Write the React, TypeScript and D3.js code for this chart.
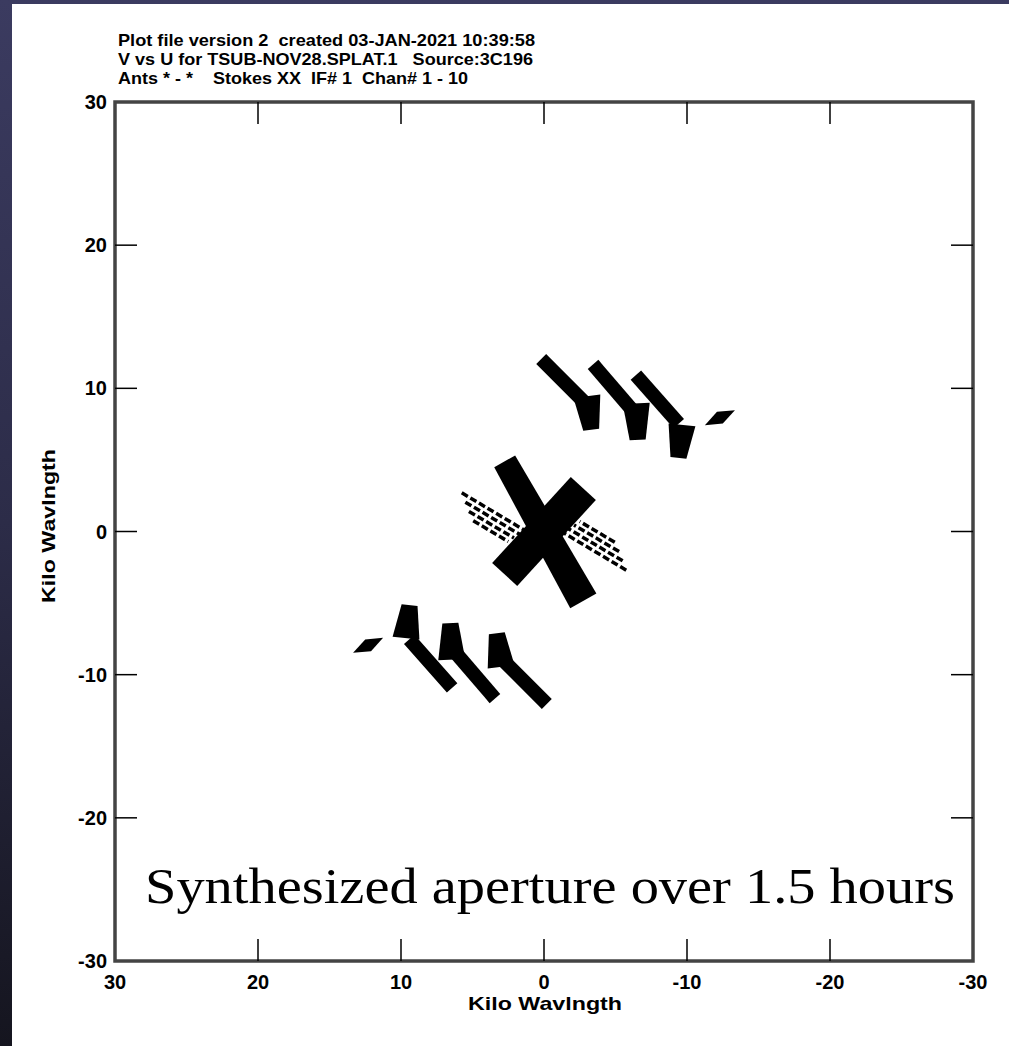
import React from 'react';
import * as d3 from 'd3';

// ---------- data ----------
const uTicks = [30, 20, 10, 0, -10, -20, -30];
const vTicks = [30, 20, 10, 0, -10, -20, -30];
const titleLines = [
  'Plot file version 2  created 03-JAN-2021 10:39:58',
  'V vs U for TSUB-NOV28.SPLAT.1   Source:3C196',
  'Ants * - *    Stokes XX  IF# 1  Chan# 1 - 10',
];
const axisTitle = 'Kilo Wavlngth';
const caption = 'Synthesized aperture over 1.5 hours';

type P = [number, number];

// thin staircase arms of the uv tracks (u, v in kilo-wavelengths)
const armTracks: P[][] = [
  [[-0.15, 11.7], [-2.6, 9.25]],
  [[-3.75, 11.3], [-5.9, 8.8]],
  [[-6.75, 10.55], [-9.1, 7.9]],
  [[0.15, -11.7], [2.6, -9.25]],
  [[3.75, -11.3], [5.9, -8.8]],
  [[6.75, -10.55], [9.1, -7.9]],
];
// wide stems (channel spread) of the tracks
const stemTracks: P[][] = [
  [[-3.0, 9.45], [-3.3, 7.1]],
  [[-6.45, 8.95], [-6.55, 6.4]],
  [[-9.65, 7.45], [-9.4, 5.15]],
  [[3.0, -9.45], [3.3, -7.1]],
  [[6.45, -8.95], [6.55, -6.4]],
  [[9.65, -7.45], [9.4, -5.15]],
];
// short isolated segments
const diamondTracks: P[][] = [
  [[-11.5, 7.55], [-13.1, 8.35]],
  [[11.5, -7.55], [13.1, -8.35]],
];
// short-baseline bands through the origin
const bandTracks: P[][] = [
  [[2.75, 4.9], [-2.75, -4.85]],
  [[-2.75, 3.0], [2.75, -3.0]],
];
// dashed parallel streaks
const dashTracks: P[][] = [
  [[5.75, 2.7], [1.3, 0.05]],
  [[5.5, 2.05], [1.7, -0.2]],
  [[5.25, 1.4], [2.1, -0.45]],
  [[4.95, 0.75], [2.5, -0.7]],
  [[-5.75, -2.7], [-1.3, -0.05]],
  [[-5.5, -2.05], [-1.7, 0.2]],
  [[-5.25, -1.4], [-2.1, 0.45]],
  [[-4.95, -0.75], [-2.5, 0.7]],
];

// ---------- layout ----------
const W = 1009;
const H = 1046;
const X0 = 115, X1 = 973, Y0 = 102, Y1 = 961;
const TICK = 22;
const sans = 'Liberation Sans, Arial, Helvetica, sans-serif';
const serif = 'Liberation Serif, Times New Roman, serif';

function tapered(p0: P, p1: P, w0: number, w1: number): string {
  const dx = p1[0] - p0[0];
  const dy = p1[1] - p0[1];
  const L = Math.hypot(dx, dy) || 1;
  const nx = -dy / L, ny = dx / L;
  const pts: P[] = [
    [p0[0] + nx * w0 / 2, p0[1] + ny * w0 / 2],
    [p1[0] + nx * w1 / 2, p1[1] + ny * w1 / 2],
    [p1[0] - nx * w1 / 2, p1[1] - ny * w1 / 2],
    [p0[0] - nx * w0 / 2, p0[1] - ny * w0 / 2],
  ];
  return pts.map((p) => p.join(',')).join(' ');
}

function rhombus(p0: P, p1: P, w: number): string {
  const dx = p1[0] - p0[0];
  const dy = p1[1] - p0[1];
  const L = Math.hypot(dx, dy) || 1;
  const nx = -dy / L, ny = dx / L;
  const m: P = [(p0[0] + p1[0]) / 2, (p0[1] + p1[1]) / 2];
  const pts: P[] = [
    [p0[0] - dx / L * 4, p0[1] - dy / L * 4],
    [m[0] + nx * w / 2, m[1] + ny * w / 2],
    [p1[0] + dx / L * 4, p1[1] + dy / L * 4],
    [m[0] - nx * w / 2, m[1] - ny * w / 2],
  ];
  return pts.map((p) => p.join(',')).join(' ');
}

export default function App() {
  const x = d3.scaleLinear().domain([30, -30]).range([X0, X1]);
  const y = d3.scaleLinear().domain([30, -30]).range([Y0, Y1]);
  const line = d3.line<P>().x((d) => x(d[0])).y((d) => y(d[1]));
  const px = (d: P): P => [x(d[0]), y(d[1])];

  const inner = uTicks.filter((t) => t !== 30 && t !== -30);
  const innerV = vTicks.filter((t) => t !== 30 && t !== -30);

  return (
    <div style={{ position: 'absolute', left: 0, top: 0 }}>
      <svg width={W} height={H} viewBox={`0 0 ${W} ${H}`} style={{ display: 'block' }}>
        <defs>
          <linearGradient id="bg" x1="0" y1="0" x2="0" y2="1">
            <stop offset="0" stopColor="#3b3b60" />
            <stop offset="0.5" stopColor="#2c2c48" />
            <stop offset="1" stopColor="#15151f" />
          </linearGradient>
        </defs>
        <rect x={0} y={0} width={W} height={H} fill="url(#bg)" />
        <rect x={12} y={4} width={W - 12} height={H - 4} fill="#ffffff" />

        {/* title */}
        {titleLines.map((t, i) => (
          <text
            key={i}
            x={118}
            y={46 + i * 19}
            fontFamily={sans}
            fontWeight="bold"
            fontSize={16.5}
            fill="#000"
            style={{ whiteSpace: 'pre' }}
            textLength={[417, 415, 350][i]}
            lengthAdjust="spacingAndGlyphs"
          >
            {t}
          </text>
        ))}

        {/* uv data */}
        <g fill="#000">
          {bandTracks.map((t, i) => (
            <polygon key={'b' + i} points={tapered(px(t[0]), px(t[1]), i === 0 ? 24 : 34, i === 0 ? 30 : 34)} />
          ))}
          {stemTracks.map((t, i) => (
            <polygon key={'s' + i} points={tapered(px(t[0]), px(t[1]), 27, 16)} />
          ))}
          {diamondTracks.map((t, i) => (
            <polygon key={'d' + i} points={rhombus(px(t[0]), px(t[1]), 13)} />
          ))}
        </g>
        <g fill="none" stroke="#000">
          {armTracks.map((t, i) => (
            <path key={'a' + i} d={line(t) || ''} strokeWidth={14} strokeLinecap="square" />
          ))}
          {dashTracks.map((t, i) => (
            <path key={'k' + i} d={line(t) || ''} strokeWidth={3.5} strokeDasharray="7 3" />
          ))}
        </g>

        {/* frame */}
        <rect x={X0} y={Y0} width={X1 - X0} height={Y1 - Y0} fill="none" stroke="#444" strokeWidth={3.5} />

        {/* ticks */}
        <g stroke="#000" strokeWidth={1.5}>
          {inner.map((t) => (
            <g key={'xt' + t}>
              <line x1={x(t)} x2={x(t)} y1={Y1} y2={Y1 - TICK} />
              <line x1={x(t)} x2={x(t)} y1={Y0} y2={Y0 + TICK} />
            </g>
          ))}
          {innerV.map((t) => (
            <g key={'yt' + t}>
              <line x1={X0} x2={X0 + TICK} y1={y(t)} y2={y(t)} />
              <line x1={X1} x2={X1 - TICK} y1={y(t)} y2={y(t)} />
            </g>
          ))}
        </g>

        {/* tick labels */}
        <g fontFamily={sans} fontWeight="bold" fontSize={20} fill="#000">
          {vTicks.map((t) => (
            <text key={'yl' + t} x={107} y={y(t) + 7} textAnchor="end">
              {t}
            </text>
          ))}
          {uTicks.map((t) => (
            <text key={'xl' + t} x={x(t)} y={989} textAnchor="middle">
              {t}
            </text>
          ))}
        </g>

        {/* axis titles */}
        <text
          x={545}
          y={1010}
          textAnchor="middle"
          fontFamily={sans}
          fontWeight="bold"
          fontSize={19}
          textLength={154}
          lengthAdjust="spacingAndGlyphs"
        >
          {axisTitle}
        </text>
        <text
          transform={`translate(55,526) rotate(-90)`}
          textAnchor="middle"
          fontFamily={sans}
          fontWeight="bold"
          fontSize={19}
          textLength={154}
          lengthAdjust="spacingAndGlyphs"
        >
          {axisTitle}
        </text>

        {/* caption */}
        <text x={145} y={903} fontFamily={serif} fontSize={51} fill="#000" textLength={810} lengthAdjust="spacingAndGlyphs">
          {caption}
        </text>
      </svg>
    </div>
  );
}
